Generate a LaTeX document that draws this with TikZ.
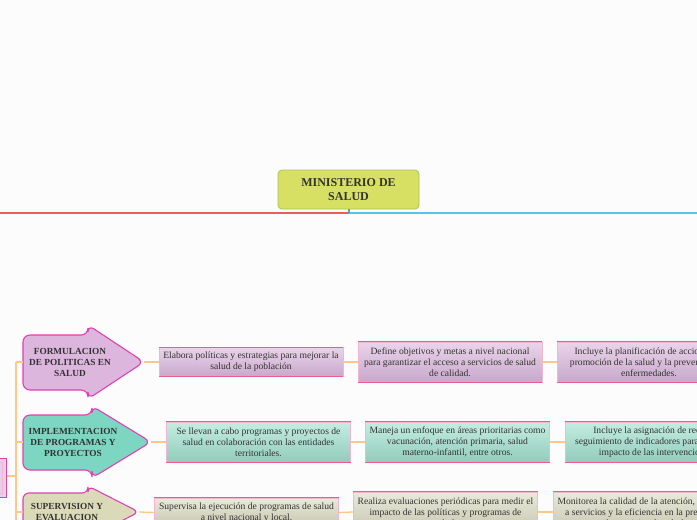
\documentclass[tikz,border=0pt]{standalone}
\usepackage{fontspec}
\setmainfont{Liberation Serif}
\usetikzlibrary{shadings}
\definecolor{bgc}{HTML}{FCFCFC}
\definecolor{txt}{HTML}{333333}
\definecolor{rootfill}{HTML}{D8E063}
\definecolor{rootdraw}{HTML}{A3C65A}
\definecolor{redl}{HTML}{EC5F58}
\definecolor{bluel}{HTML}{52C4EE}
\definecolor{stub}{HTML}{6A98BE}
\definecolor{orl}{HTML}{FFC68A}
\definecolor{mag}{HTML}{E040B4}
\definecolor{af1}{HTML}{DCB6DC}
\definecolor{af2}{HTML}{7DD6C1}
\definecolor{af3}{HTML}{DADAB8}
\definecolor{edge}{HTML}{EE5A92}
\definecolor{sideedge}{HTML}{F2B6D2}
\definecolor{p1}{HTML}{EAD4EA}\definecolor{p2}{HTML}{C8A8CB}
\definecolor{t1}{HTML}{C4EDE2}\definecolor{t2}{HTML}{92CCBB}
\definecolor{g1}{HTML}{EAEADB}\definecolor{g2}{HTML}{C5C5AE}
\definecolor{lfill}{HTML}{E6CFE8}
\tikzset{
  x=1pt,y=-1pt,
  conn/.style={draw=orl,line width=1.3pt},
  arrowshape/.style={draw=mag,line width=1.1pt,rounded corners=7pt},
  arrowtext/.style={align=center,text=txt,font=\fontsize{9.3}{11}\selectfont\bfseries,inner sep=0pt},
  infobox/.style={draw=sideedge,line width=0.6pt,minimum width=184pt,align=center,inner sep=0pt,text=txt,font=\fontsize{9.6}{11}\selectfont},
  twol/.style={minimum height=29pt},
  threel/.style={minimum height=40pt},
  pinkbox/.style={infobox,top color=p1,bottom color=p2},
  tealbox/.style={infobox,top color=t1,bottom color=t2},
  beigebox/.style={infobox,top color=g1,bottom color=g2},
  boxedge/.style={draw=edge,line width=1.3pt},
}
\begin{document}
\begin{tikzpicture}
\fill[bgc] (0,0) rectangle (697,520);
\useasboundingbox (0,0) rectangle (697,520);
\clip (0,0) rectangle (697,520);

% root
\node[draw=rootdraw,line width=0.8pt,fill=rootfill,rounded corners=4pt,minimum width=141pt,minimum height=39pt,align=center,text=txt,font=\fontsize{12}{14}\selectfont\bfseries,inner sep=0pt] (R) at (348.5,189.5) {MINISTERIO DE\\SALUD};
\coordinate (hub) at (349,213);
\coordinate (lend) at (-5,213);
\coordinate (rend) at (705,213);
\draw[redl,line width=1.4pt] (hub) -- (lend);
\draw[bluel,line width=1.4pt] (hub) -- (rend);
\draw[stub,line width=1.2pt] (R.south -| hub) -- (hub);

% left partial node
\node[draw=mag,line width=1pt,fill=lfill,minimum width=60pt,minimum height=39pt,inner sep=0pt] (L) at (-24,477.5) {};
\draw[sideedge,line width=0.8pt] (-40,462) -- (2.5,462) -- (2.5,493) -- (-40,493);

% trunk
\coordinate (tr0) at (16,362);
\coordinate (tr1) at (16,442);
\coordinate (tr2) at (16,512);
\coordinate (trL) at (16,476);
\coordinate (trend) at (16,530);
\draw[conn] (tr0) -- (trend);
\draw[conn] (L.east |- trL) -- (trL);

% arrows
\coordinate (a1l) at (23,362);
\coordinate (a1tip) at (144,362);
\draw[arrowshape,fill=af1] (23,335) -- (88,335) -- (88,325) -- (a1tip) -- (88,399) -- (88,390) -- (23,390) -- cycle;
\node[arrowtext] (a1) at (70,362) {FORMULACION\\DE POLITICAS EN\\SALUD};

\coordinate (a2l) at (23,442);
\coordinate (a2tip) at (151,442);
\draw[arrowshape,fill=af2] (23,415) -- (92,415) -- (92,406) -- (a2tip) -- (92,478) -- (92,470) -- (23,470) -- cycle;
\node[arrowtext] (a2) at (73,442) {IMPLEMENTACION\\DE PROGRAMAS Y\\PROYECTOS};

\coordinate (a3l) at (23,512);
\coordinate (a3tip) at (139,512);
\draw[arrowshape,rounded corners=6pt,fill=af3] (23,493) -- (88,493) -- (88,486) -- (a3tip) -- (88,538) -- (88,531) -- (23,531) -- cycle;
\node[arrowtext] (a3) at (67,511.5) {SUPERVISION Y\\EVALUACION};

\draw[conn] (tr0) -- (a1l);
\draw[conn] (tr1) -- (a2l);
\draw[conn] (tr2) -- (a3l);

% row 1
\node[pinkbox,twol] (b11) at (251,362) {Elabora políticas y estrategias para mejorar la\\salud de la población};
\node[pinkbox,threel] (b12) at (450,362) {Define objetivos y metas a nivel nacional\\para garantizar el acceso a servicios de salud\\de calidad.};
\node[pinkbox,threel] (b13) at (649,362) {Incluye la planificación de acciones de\\promoción de la salud y la prevención de\\enfermedades.};
% row 2
\node[tealbox,threel] (b21) at (258.5,442) {Se llevan a cabo programas y proyectos de\\salud en colaboración con las entidades\\territoriales.};
\node[tealbox,threel] (b22) at (457.5,442) {Maneja un enfoque en áreas prioritarias como\\vacunación, atención primaria, salud\\materno-infantil, entre otros.};
\node[tealbox,threel] (b23) at (657,442) {Incluye la asignación de recursos\\seguimiento de indicadores para evaluar el\\impacto de las intervenciones.};
% row 3
\node[beigebox,twol] (b31) at (246.5,512.5) {Supervisa la ejecución de programas de salud\\a nivel nacional y local.};
\node[beigebox,threel] (b32) at (445.5,512) {Realiza evaluaciones periódicas para medir el\\impacto de las políticas y programas de\\salud.};
\node[beigebox,threel] (b33) at (645,512) {Monitorea la calidad de la atención, el acceso\\a servicios y la eficiencia en la prestación\\de servicios de salud.};

\foreach \n in {b11,b12,b13,b21,b22,b23,b31,b32,b33}{
  \draw[boxedge] (\n.north west) -- (\n.north east);
  \draw[boxedge] (\n.south west) -- (\n.south east);
}

\draw[conn] (a1tip) -- (b11.west);
\draw[conn] (b11.east) -- (b12.west);
\draw[conn] (b12.east) -- (b13.west);
\draw[conn] (a2tip) -- (b21.west);
\draw[conn] (b21.east) -- (b22.west);
\draw[conn] (b22.east) -- (b23.west);
\draw[conn] (a3tip) -- (b31.west);
\draw[conn] (b31.east) -- (b32.west);
\draw[conn] (b32.east) -- (b33.west);
\end{tikzpicture}
\end{document}
